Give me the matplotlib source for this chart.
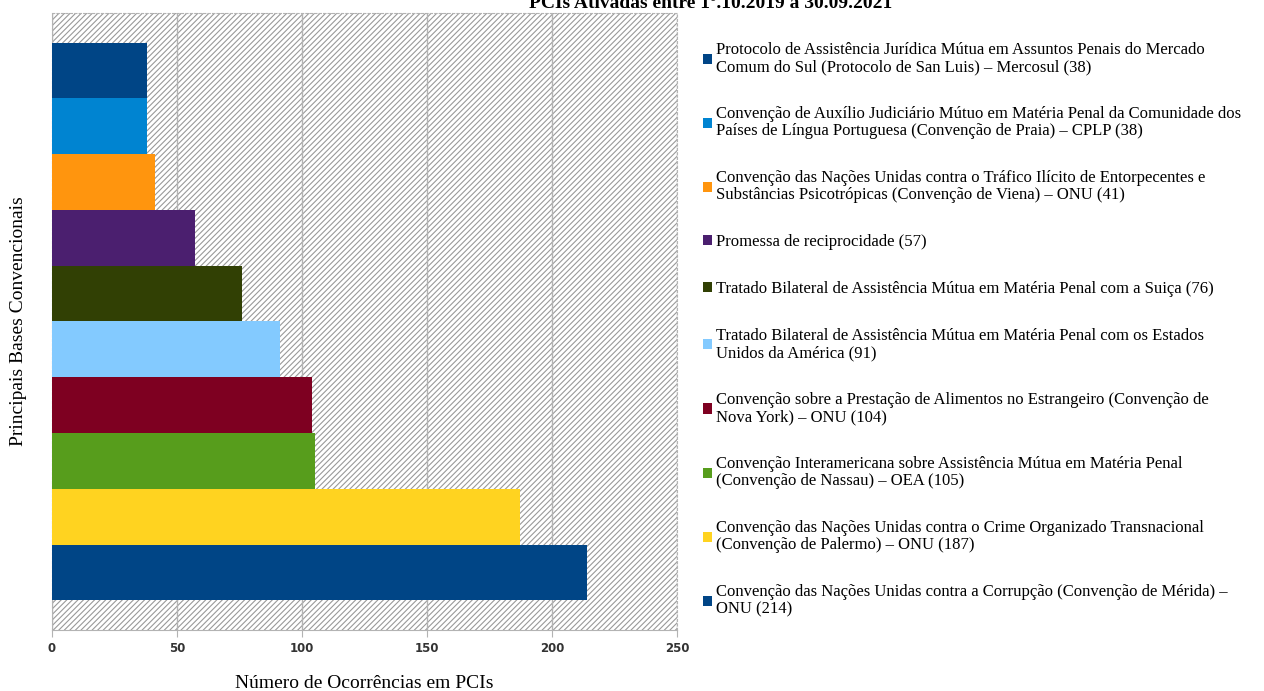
import matplotlib
matplotlib.use("Agg")
import matplotlib.pyplot as plt
from matplotlib.patches import Rectangle

# dados (de baixo para cima no gráfico)
rotulos = [
    "Convenção das Nações Unidas contra a Corrupção (Convenção de Mérida) –\nONU (214)",
    "Convenção das Nações Unidas contra o Crime Organizado Transnacional\n(Convenção de Palermo) – ONU (187)",
    "Convenção Interamericana sobre Assistência Mútua em Matéria Penal\n(Convenção de Nassau) – OEA (105)",
    "Convenção sobre a Prestação de Alimentos no Estrangeiro (Convenção de\nNova York) – ONU (104)",
    "Tratado Bilateral de Assistência Mútua em Matéria Penal com os Estados\nUnidos da América (91)",
    "Tratado Bilateral de Assistência Mútua em Matéria Penal com a Suiça (76)",
    "Promessa de reciprocidade (57)",
    "Convenção das Nações Unidas contra o Tráfico Ilícito de Entorpecentes e\nSubstâncias Psicotrópicas (Convenção de Viena) – ONU (41)",
    "Convenção de Auxílio Judiciário Mútuo em Matéria Penal da Comunidade dos\nPaíses de Língua Portuguesa (Convenção de Praia) – CPLP (38)",
    "Protocolo de Assistência Jurídica Mútua em Assuntos Penais do Mercado\nComum do Sul (Protocolo de San Luis) – Mercosul (38)",
]
valores = [214, 187, 105, 104, 91, 76, 57, 41, 38, 38]
cores = ["#004586", "#ffd320", "#579d1c", "#7e0021", "#83caff",
         "#314004", "#4b1f6f", "#ff950e", "#0084d1", "#004586"]
xticks = [0, 50, 100, 150, 200, 250]

serif = "Liberation Serif"
plt.rcParams['hatch.linewidth'] = 0.8

fig = plt.figure(figsize=(12.64, 6.91), dpi=100)
ax = fig.add_axes([52 / 1264, 1 - 630 / 691, 625 / 1264, 617 / 691])

# fundo hachurado
ax.add_patch(Rectangle((0, 0), 1, 1, transform=ax.transAxes, facecolor="white",
                       edgecolor="#999999", hatch="//////", linewidth=0, zorder=0))

barras = []
for i, (v, c, r) in enumerate(zip(valores, cores, rotulos)):
    b = ax.barh(i, v, height=1.0, color=c, label=r, zorder=3)
    barras.append(b)

ax.set_xlim(0, 250)
ax.set_ylim(-1.03, 10.03)
ax.set_xticks(xticks)
ax.set_yticks([])
ax.grid(axis="x", color="#b3b3b3", linewidth=1.0, zorder=1)
ax.set_axisbelow(True)
for s in ["top", "right", "left"]:
    ax.spines[s].set_color("#b3b3b3")
    ax.spines[s].set_linestyle((0, (2, 2)))
    ax.spines[s].set_linewidth(0.8)
ax.spines["bottom"].set_color("#b3b3b3")
ax.tick_params(axis="x", length=5, color="#b3b3b3", labelsize=8.5, pad=4)
for t in ax.get_xticklabels():
    t.set_fontweight("bold")
    t.set_color("#333333")

ax.set_xlabel("Número de Ocorrências em PCIs", fontfamily=serif, fontsize=14, labelpad=14)
ax.set_ylabel("Principais Bases Convencionais", fontfamily=serif, fontsize=14, labelpad=18)

handles = [b for b in barras][::-1]
labels = rotulos[::-1]
leg = fig.legend(handles, labels, loc="upper left", bbox_to_anchor=(688 / 1264, 1 - 27 / 691),
                 frameon=False, prop={"family": serif, "size": 12},
                 handlelength=0.55, handleheight=0.55, handletextpad=0.25,
                 labelspacing=1.85)
for t in leg.get_texts():
    t.set_linespacing(1.1)

fig.text(711 / 1264, 1 - 3 / 691, "PCIs Ativadas entre 1º.10.2019 a 30.09.2021", ha="center", va="center",
         fontfamily=serif, fontsize=14, fontweight="bold")

fig.savefig("out.png", dpi=100)
